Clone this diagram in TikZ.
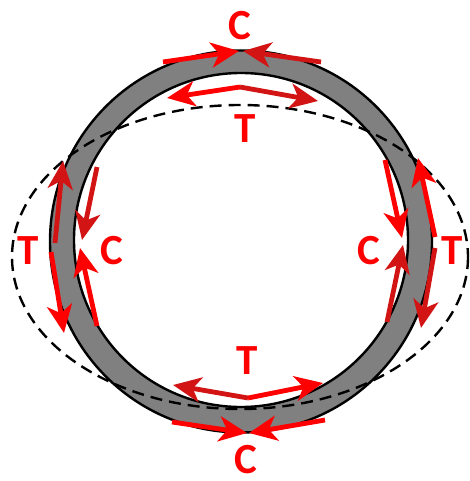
\documentclass[tikz,border=0pt]{standalone}
\usepackage{fontspec}
\setmainfont{Carlito}
\usetikzlibrary{arrows.meta}
\definecolor{redA}{RGB}{255,0,0}
\definecolor{redB}{RGB}{210,20,20}
\definecolor{ringgrey}{RGB}{128,128,128}
\begin{document}
\begin{tikzpicture}[x=1pt,y=-1pt,
  force/.style={line width=4.8pt, redA, -{Stealth[length=28pt,width=25pt,inset=8pt]}},
  forceB/.style={force, redB},
  lbl/.style={text=redA, font=\fontsize{43}{43}\selectfont\bfseries, inner sep=0pt, anchor=center},
  ringedge/.style={line width=2.4pt, black},
  deformed/.style={line width=2.4pt, black, dash pattern=on 12pt off 7pt}]
\useasboundingbox (0,0) rectangle (469,481);
% ring
\fill[ringgrey, even odd rule] (241,241.5) circle (191) (241,240) circle (167);
\draw[ringedge] (241,241.5) circle (191);
\draw[ringedge] (241,240) circle (167);
% deformed shape
\draw[deformed] (240,257) ellipse (228 and 152);
% arrow end points
\coordinate (tc1s) at (163,62);  \coordinate (tc1e) at (239,51);
\coordinate (tc2s) at (321,62);  \coordinate (tc2e) at (243,51);
\coordinate (tts)  at (240,87);  \coordinate (tt1e) at (167,98);  \coordinate (tt2e) at (318,101);
\coordinate (lt1s) at (55,243);  \coordinate (lt1e) at (63,161);
\coordinate (lt2s) at (51,252);  \coordinate (lt2e) at (64,333);
\coordinate (lc1s) at (97,167);  \coordinate (lc1e) at (82,240);
\coordinate (lc2s) at (97,326);  \coordinate (lc2e) at (80,248);
\coordinate (rc1s) at (385,160); \coordinate (rc1e) at (402,238);
\coordinate (rc2s) at (387,322); \coordinate (rc2e) at (403,245);
\coordinate (rt1s) at (435,237); \coordinate (rt1e) at (418,158);
\coordinate (rt2s) at (435,248); \coordinate (rt2e) at (421,328);
\coordinate (bts)  at (248,398); \coordinate (bt1e) at (173,385); \coordinate (bt2e) at (323,383);
\coordinate (bc1s) at (172,422); \coordinate (bc1e) at (247,433);
\coordinate (bc2s) at (325,420); \coordinate (bc2e) at (249,433);
% arrows
\draw[force]  (tc1s) -- (tc1e);
\draw[forceB] (tc2s) -- (tc2e);
\draw[force]  (tts) -- (tt1e);
\draw[forceB] (tts) -- (tt2e);
\draw[forceB] (lt1s) -- (lt1e);
\draw[force]  (lt2s) -- (lt2e);
\draw[forceB] (lc1s) -- (lc1e);
\draw[force]  (lc2s) -- (lc2e);
\draw[force]  (rc1s) -- (rc1e);
\draw[forceB] (rc2s) -- (rc2e);
\draw[force]  (rt1s) -- (rt1e);
\draw[forceB] (rt2s) -- (rt2e);
\draw[forceB] (bts) -- (bt1e);
\draw[force]  (bts) -- (bt2e);
\draw[force]  (bc1s) -- (bc1e);
\draw[force]  (bc2s) -- (bc2e);
% labels
\node[lbl] (ctop) at (240,26) {C};
\node[lbl] (ttop) at (245,129) {T};
\node[lbl] (tleft) at (28,251) {T};
\node[lbl] (cleft) at (112,251) {C};
\node[lbl] (cright) at (369,251) {C};
\node[lbl] (tright) at (452,251) {T};
\node[lbl] (tbot) at (247,361) {T};
\node[lbl] (cbot) at (246,460) {C};
\end{tikzpicture}
\end{document}
